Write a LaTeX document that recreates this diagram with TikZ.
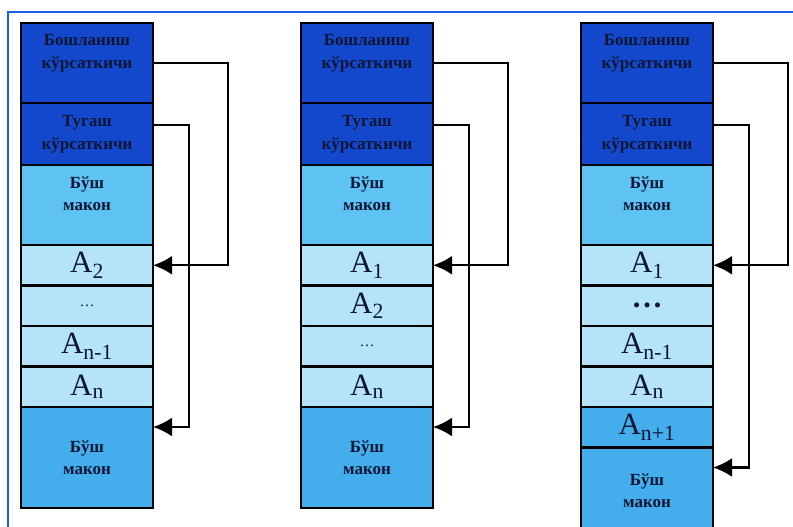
\documentclass[tikz,border=0pt]{standalone}
\usepackage{fontspec}
\setmainfont{Liberation Serif}
\usetikzlibrary{arrows.meta, positioning}
\definecolor{ptrblue}{HTML}{1448CC}
\definecolor{freeblue}{HTML}{5EC3F2}
\definecolor{cellblue}{HTML}{B5E4F9}
\definecolor{tailblue}{HTML}{44ADEC}
\definecolor{inkblue}{HTML}{0B1534}
\definecolor{frameblue}{HTML}{1F5BE3}

\tikzset{
  cell/.style={draw=black, line width=2.4pt, outer sep=0pt, inner sep=0pt,
    minimum width=132pt, align=center, text=inkblue},
  ptrbox/.style={cell, fill=ptrblue, font=\bfseries\fontsize{17}{23}\selectfont},
  freebox/.style={cell, fill=freeblue, minimum height=80pt,
    font=\bfseries\fontsize{17}{22}\selectfont},
  elembox/.style={cell, fill=cellblue, minimum height=40.5pt,
    font=\fontsize{31}{32}\selectfont},
  tailbox/.style={freebox, fill=tailblue},
  link/.style={black, line width=2.4pt, -{Latex[length=19pt,width=19pt]}},
}

\begin{document}
\begin{tikzpicture}[x=1pt,y=-1pt]
  \clip (0,0) rectangle (793,527);
  \draw[frameblue, line width=2.6pt] (8,540) -- (8,12) -- (800,12);

  % pointer and free blocks on top of every column
  \foreach \c/\x in {1/87,2/367,3/647} {
    \node[ptrbox, minimum height=80pt] (st\c) at (\x,63) {Бошланиш\\кўрсаткичи\\\mbox{}};
    \node[ptrbox, minimum height=62pt, below=0pt of st\c] (en\c) {Тугаш\\кўрсаткичи};
    \node[freebox, below=0pt of en\c] (fr\c) {Бўш\\макон\\\mbox{}};
  }

  % first column
  \node[elembox, below=0pt of fr1] (a1) {A\textsubscript{2}};
  \node[elembox, below=0pt of a1] (d1) {\fontsize{15}{15}\selectfont\dots};
  \node[elembox, below=0pt of d1] (m1) {A\textsubscript{n-1}};
  \node[elembox, below=0pt of m1] (n1) {A\textsubscript{n}};
  \node[tailbox, minimum height=101pt, below=0pt of n1] (tl1) {Бўш\\макон};

  % second column
  \node[elembox, below=0pt of fr2] (a2) {A\textsubscript{1}};
  \node[elembox, below=0pt of a2] (b2) {A\textsubscript{2}};
  \node[elembox, below=0pt of b2] (d2) {\fontsize{15}{15}\selectfont\dots};
  \node[elembox, below=0pt of d2] (n2) {A\textsubscript{n}};
  \node[tailbox, minimum height=101pt, below=0pt of n2] (tl2) {Бўш\\макон};

  % third column
  \node[elembox, below=0pt of fr3] (a3) {A\textsubscript{1}};
  \node[elembox, below=0pt of a3] (d3) {\textbf{\dots}};
  \node[elembox, below=0pt of d3] (m3) {A\textsubscript{n-1}};
  \node[elembox, below=0pt of m3] (n3) {A\textsubscript{n}};
  \node[elembox, fill=tailblue, below=0pt of n3] (p3) {A\textsubscript{n+1}};
  \node[tailbox, minimum height=86pt, below=0pt of p3] (tl3) {Бўш\\макон};

  % pointers
  \foreach \c/\h in {1/a1,2/a2,3/a3} {
    \draw[link] (st\c.east) -- ++(75,0) |- (\h.east);
    \draw[link] ([yshift=9pt]en\c.east) -- ++(36,0) |- ([yshift=-20pt]tl\c.north east);
  }
\end{tikzpicture}
\end{document}
